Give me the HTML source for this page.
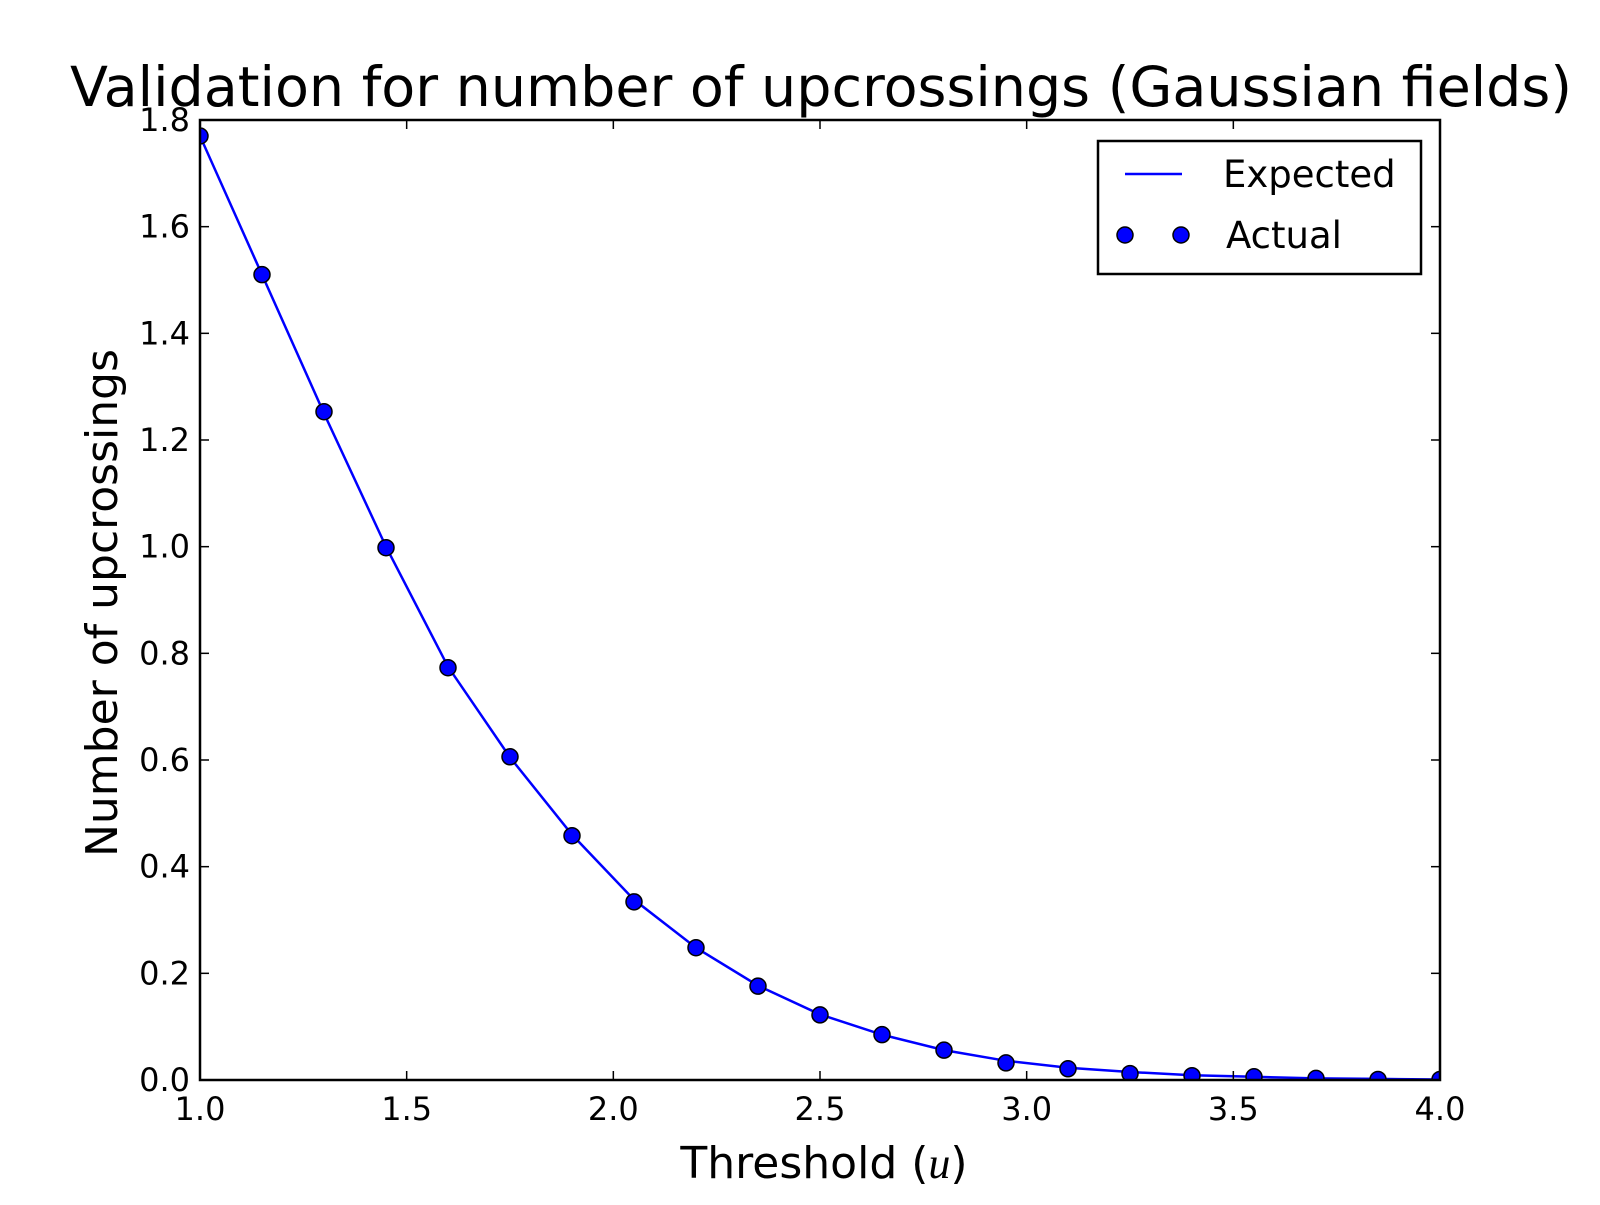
<!DOCTYPE html>
<html><head><meta charset="utf-8"><style>
body{margin:0;background:#fff}
svg text{font-family:"DejaVu Sans","Liberation Sans",sans-serif;fill:#000}
</style></head><body>
<svg id="chart" width="1600" height="1200" xmlns="http://www.w3.org/2000/svg">
<rect width="1600" height="1200" fill="#fff"/>
<text x="821" y="106" font-size="55.5" text-anchor="middle">Validation for number of upcrossings (Gaussian fields)</text>
<g id="plot"></g>
<text x="824" y="1178" font-size="44" text-anchor="middle">Threshold (<tspan font-family="Liberation Serif" font-style="italic">u</tspan>)</text>
<text transform="translate(117,603) rotate(-90)" font-size="44" text-anchor="middle">Number of upcrossings</text>
<g transform="translate(-6,0)">
<rect x="1104" y="141" width="323" height="133" fill="#fff" stroke="#000" stroke-width="2.5"/>
<line x1="1131" y1="174" x2="1188" y2="174" stroke="#0000ff" stroke-width="2.5"/>
<text x="1229" y="187" font-size="37">Expected</text>
<circle cx="1131" cy="235" r="8" fill="#0000ff" stroke="#000" stroke-width="1.5"/>
<circle cx="1187" cy="235" r="8" fill="#0000ff" stroke="#000" stroke-width="1.5"/>
<text x="1232" y="248" font-size="37">Actual</text>
</g>
</svg>
<script>
const xs=[1.0,1.15,1.3,1.45,1.6,1.75,1.9,2.05,2.2,2.35,2.5,2.65,2.8,2.95,3.1,3.25,3.4,3.55,3.7,3.85,4.0];
const expected=[1.77,1.51,1.25,1.0,0.775,0.605,0.46,0.338,0.248,0.177,0.123,0.085,0.056,0.036,0.023,0.015,0.009,0.006,0.003,0.002,0.001];
const actual=[1.77,1.51,1.253,0.998,0.773,0.606,0.458,0.334,0.248,0.176,0.122,0.085,0.056,0.032,0.021,0.012,0.008,0.006,0.003,0.001,0.001];
const xTicks=[1.0,1.5,2.0,2.5,3.0,3.5,4.0];
const yTicks=[0.0,0.2,0.4,0.6,0.8,1.0,1.2,1.4,1.6,1.8];
const L=200,R=1440,T=120,B=1080;
const X=v=>L+(v-1)/(3)*(R-L), Y=v=>B-v/1.8*(B-T);
const g=document.getElementById('plot');const NS='http://www.w3.org/2000/svg';
function mk(t,a){const e=document.createElementNS(NS,t);for(const k in a)e.setAttribute(k,a[k]);g.appendChild(e);return e;}
const cp=mk('clipPath',{id:'c'});const cr=document.createElementNS(NS,'rect');cr.setAttribute('x',L);cr.setAttribute('y',T);cr.setAttribute('width',R-L);cr.setAttribute('height',B-T);cp.appendChild(cr);
const line=mk('polyline',{points:xs.map((x,i)=>X(x)+','+Y(expected[i])).join(' '),fill:'none',stroke:'#0000ff','stroke-width':2.5,'clip-path':'url(#c)'});


xs.forEach((x,i)=>{const c=mk('circle',{cx:X(x),cy:Y(actual[i]),r:8,fill:'#0000ff',stroke:'#000','stroke-width':1.5,'clip-path':'url(#c)'});

});
xTicks.forEach(v=>{mk('line',{x1:X(v),x2:X(v),y1:B,y2:B-9,stroke:'#000','stroke-width':1.5});mk('line',{x1:X(v),x2:X(v),y1:T,y2:T+9,stroke:'#000','stroke-width':1.5});
const t=mk('text',{x:X(v),y:B+40,'font-size':32,'text-anchor':'middle'});t.textContent=v.toFixed(1);

});
yTicks.forEach(v=>{mk('line',{x1:L,x2:L+9,y1:Y(v),y2:Y(v),stroke:'#000','stroke-width':1.5});mk('line',{x1:R,x2:R-9,y1:Y(v),y2:Y(v),stroke:'#000','stroke-width':1.5});
const t=mk('text',{x:L-10,y:Y(v)+11,'font-size':32,'text-anchor':'end'});t.textContent=v.toFixed(1);

});
const fr=mk('rect',{x:L,y:T,width:R-L,height:B-T,fill:'none',stroke:'#000','stroke-width':2.5});


</script>
</body></html>
